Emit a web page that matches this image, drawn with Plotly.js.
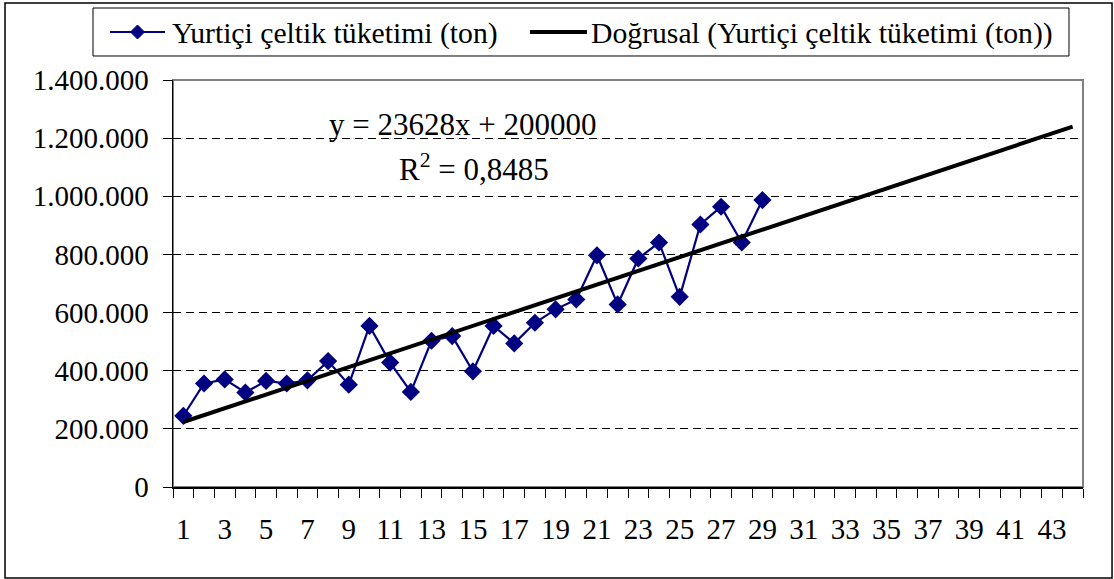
<!DOCTYPE html>
<html>
<head>
<meta charset="utf-8">
<script src="https://cdn.plot.ly/plotly-3.0.1.min.js"></script>
<style>
  html, body { margin: 0; padding: 0; background: #fff; }
  #chart { width: 1114px; height: 579px; }
</style>
</head>
<body>
<div id="chart"></div>
<script>
// kategori (yıl sırası) ve eksen etiketleri
const periods = ['1','2','3','4','5','6','7','8','9','10','11','12','13','14','15','16','17','18','19','20','21','22',
                 '23','24','25','26','27','28','29','30','31','32','33','34','35','36','37','38','39','40','41','42','43','44'];
const periodLabels = ['1','','3','','5','','7','','9','','11','','13','','15','','17','','19','','21','',
                      '23','','25','','27','','29','','31','','33','','35','','37','','39','','41','','43',''];

// Yurtiçi çeltik tüketimi (ton)
const consumption = [245000, 356000, 370000, 325000, 365000, 356000, 367000, 433000, 352000, 554000,
                     428000, 327000, 503000, 519000, 398000, 554000, 494000, 565000, 611000, 645000,
                     797000, 628000, 786000, 841000, 654000, 903000, 964000, 841000, 987000];

// doğrusal eğilim: y = 23628x + 200000
const trendSlope = 23628;
const trendIntercept = 200000;
const trendEnds = ['1', '44'];

const seriesName = 'Yurtiçi çeltik tüketimi (ton)';
const trendName = 'Doğrusal (Yurtiçi çeltik tüketimi (ton))';

const serif = 'Liberation Serif';
const navy = '#000080';

const traceData = {
  type: 'scatter',
  mode: 'lines+markers',
  x: periods.slice(0, consumption.length),
  y: consumption,
  name: seriesName,
  line: { color: navy, width: 2.2 },
  marker: { symbol: 'diamond', size: 14, color: navy }
};

const traceTrend = {
  type: 'scatter',
  mode: 'lines',
  x: trendEnds,
  y: trendEnds.map(p => trendSlope * Number(p) + trendIntercept),
  name: trendName,
  line: { color: '#000', width: 4 }
};

// lejant elle çiziliyor (Plotly yatay lejantı bu genişlikte iki satıra kırıyor)
const legY = 1.1179;
const dx = 7 / 910, dy = 7 / 407, mx = -0.0390;
const legendShapes = [
  { type: 'rect', xref: 'paper', yref: 'paper', x0: -0.0879, x1: 0.9846, y0: 1.059, y1: 1.1769,
    line: { color: '#000', width: 1 }, fillcolor: '#fff' },
  { type: 'line', xref: 'paper', yref: 'paper', x0: -0.0692, x1: -0.0088, y0: legY, y1: legY,
    line: { color: navy, width: 2.2 } },
  { type: 'path', xref: 'paper', yref: 'paper',
    path: `M ${mx - dx} ${legY} L ${mx} ${legY + dy} L ${mx + dx} ${legY} L ${mx} ${legY - dy} Z`,
    fillcolor: navy, line: { color: navy, width: 1 } },
  { type: 'line', xref: 'paper', yref: 'paper', x0: 0.3923, x1: 0.4549, y0: legY, y1: legY,
    line: { color: '#000', width: 4 } }
];

const layout = {
  width: 1114,
  height: 579,
  margin: { l: 173, r: 31, t: 80, b: 92 },
  paper_bgcolor: '#fff',
  plot_bgcolor: '#fff',
  separators: ',.',
  font: { family: serif, size: 29, color: '#000' },
  showlegend: false,
  xaxis: {
    type: 'category',
    categoryorder: 'array',
    categoryarray: periods,
    range: [-0.5, 43.5],
    autorange: false,
    tickmode: 'array',
    tickvals: periods,
    ticktext: periodLabels,
    tickson: 'boundaries',
    tickangle: 0,
    ticks: 'outside',
    ticklen: 9,
    tickcolor: '#000',
    showline: true,
    linecolor: '#000',
    linewidth: 1.5,
    showgrid: false,
    zeroline: false,
    ticklabelstandoff: 16,
    tickfont: { family: serif, size: 29, color: '#000' }
  },
  yaxis: {
    range: [0, 1400000],
    autorange: false,
    tickmode: 'linear',
    tick0: 0,
    dtick: 200000,
    tickformat: ',d',
    ticks: 'outside',
    ticklen: 9,
    tickcolor: '#000',
    showline: true,
    linecolor: '#000',
    linewidth: 1.5,
    showgrid: true,
    gridcolor: '#000',
    gridwidth: 1,
    griddash: '8px,5px',
    zeroline: false,
    ticklabelstandoff: 8,
    tickfont: { family: serif, size: 29, color: '#000' }
  },
  shapes: [
    { type: 'rect', xref: 'paper', yref: 'paper', x0: 0, x1: 1, y0: 0, y1: 1,
      line: { color: '#808080', width: 2 }, layer: 'below' },
    { type: 'rect', xref: 'paper', yref: 'paper', x0: -0.1846, x1: 1.0319, y0: -0.2236, y1: 1.189,
      line: { color: '#000', width: 1.5 } }
  ].concat(legendShapes),
  annotations: [
    { xref: 'paper', yref: 'paper', x: 0.1692, y: 0.843, xanchor: 'left', yanchor: 'bottom', showarrow: false,
      text: 'y = 23628x + 200000', font: { family: serif, size: 31, color: '#000' } },
    { xref: 'paper', yref: 'paper', x: 0.2462, y: 0.732, xanchor: 'left', yanchor: 'bottom', showarrow: false,
      text: 'R<sup>2</sup> = 0,8485', font: { family: serif, size: 31, color: '#000' } },
    { xref: 'paper', yref: 'paper', x: -0.0033, y: 1.0688, xanchor: 'left', yanchor: 'bottom', showarrow: false,
      text: seriesName, font: { family: serif, size: 29.7, color: '#000' } },
    { xref: 'paper', yref: 'paper', x: 0.4571, y: 1.0688, xanchor: 'left', yanchor: 'bottom', showarrow: false,
      text: trendName, font: { family: serif, size: 29.7, color: '#000' } }
  ]
};

Plotly.newPlot('chart', [traceData, traceTrend], layout, { displayModeBar: false, staticPlot: true });
</script>
</body>
</html>
